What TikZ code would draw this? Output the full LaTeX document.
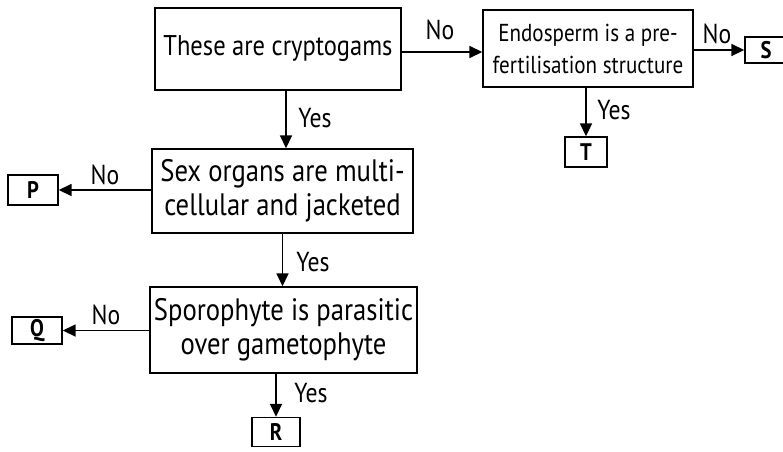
\documentclass[tikz,border=0pt]{standalone}
\usepackage{fontspec}
\setmainfont[FakeStretch=0.86]{PT Sans}
\usetikzlibrary{arrows.meta}
\tikzset{
  box/.style={draw, line width=1.4pt, inner sep=0pt, align=center},
  leaf/.style={draw, line width=1.4pt, inner sep=0pt, font=\fontsize{24}{24}\selectfont\bfseries},
  arr/.style={line width=1.6pt, -{Triangle[length=13pt,width=12pt]}},
  lab/.style={font=\fontsize{27.5}{27.5}\selectfont, inner sep=0pt},
  bigA/.style={font=\fontsize{28.5}{33}\selectfont},
  big/.style={font=\fontsize{31}{34}\selectfont},
  mid/.style={font=\fontsize{24.5}{32}\selectfont}
}
\begin{document}
\begin{tikzpicture}[x=1pt,y=-1pt]
\clip (0,0) rectangle (783,451);
\fill[white] (0,0) rectangle (783,451);
\node[box,bigA,minimum width=246pt,minimum height=82pt] (A) at (278,49) {These are cryptogams};
\node[box,mid,minimum width=210pt,minimum height=77pt] (B) at (588,48.5) {Endosperm is a pre-\\fertilisation structure};
\node[leaf,minimum width=42pt,minimum height=26pt] (S) at (766,50) {S};
\node[leaf,minimum width=42pt,minimum height=30pt] (T) at (586,152) {T};
\node[box,big,minimum width=261pt,minimum height=84pt] (C) at (282.5,191) {Sex organs are multi-\\cellular and jacketed};
\node[leaf,minimum width=50pt,minimum height=30pt] (P) at (33,190) {P};
\node[box,big,minimum width=267pt,minimum height=86pt] (D) at (283.5,330) {Sporophyte is parasitic\\over gametophyte};
\node[leaf,minimum width=50pt,minimum height=27pt] (Q) at (37,330.5) {Q};
\node[leaf,minimum width=48pt,minimum height=29pt] (R) at (276,432) {R};
\draw[arr] ([yshift=-3pt]A.east) -- ([yshift=-3pt]A.east -| B.west);
\draw[arr] (B.east |- S.west) -- (S.west);
\draw[arr] (B.south -| T.north) -- (T.north);
\draw[arr] ([xshift=8pt]A.south) -- ([xshift=8pt]A.south |- C.north);
\draw[arr] (C.west |- P.east) -- (P.east);
\draw[arr] (C.south) -- (C.south |- D.north);
\draw[arr] (D.west |- Q.east) -- (Q.east);
\draw[arr] (D.south -| R.north) -- (R.north);
\node[lab] (l1) at (440,30) {No};
\node[lab] (l2) at (717,34) {No};
\node[lab] (l3) at (614,110) {Yes};
\node[lab] (l4) at (315,118) {Yes};
\node[lab] (l5) at (105,175) {No};
\node[lab] (l6) at (313,262) {Yes};
\node[lab] (l7) at (106,315) {No};
\node[lab] (l8) at (311,393) {Yes};
\end{tikzpicture}
\end{document}
